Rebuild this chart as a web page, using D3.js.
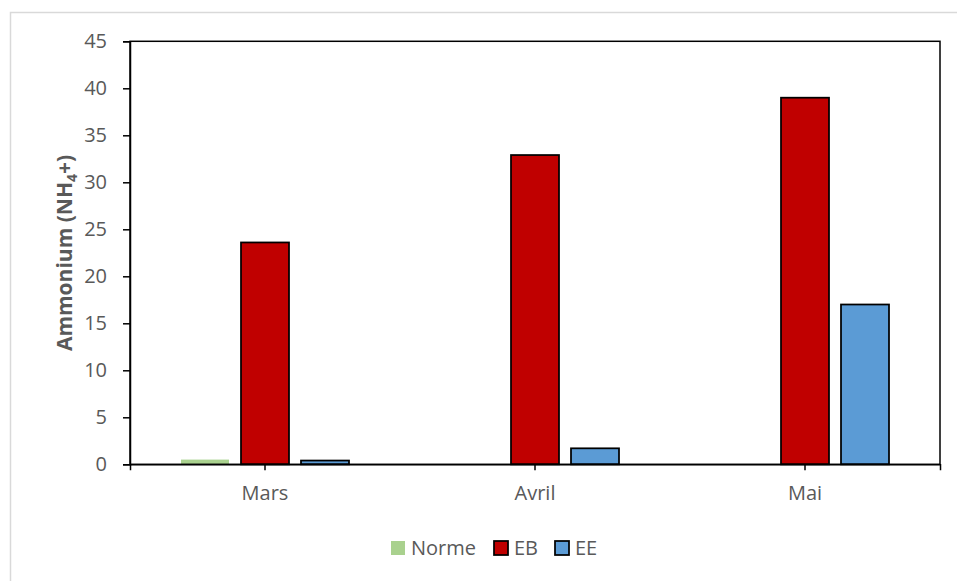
<!DOCTYPE html>
<html>
<head>
<meta charset="utf-8">
<script src="https://cdn.jsdelivr.net/npm/d3@7"></script>
<style>
  html, body { margin: 0; padding: 0; background: #fff; }
  svg { display: block; }
  text { font-family: "Open Sans", "Noto Sans", sans-serif; fill: #595959; }
</style>
</head>
<body>
<svg id="chart" width="957" height="581"></svg>
<script>
// Monthly ammonium measurements
const months = ["Mars", "Avril", "Mai"];
const seriesNames = ["Norme", "EB", "EE"];
const norme = [0.5, 0, 0];
const eb = [23.6, 32.9, 39.0];
const ee = [0.4, 1.7, 17.0];
const yTicks = [0, 5, 10, 15, 20, 25, 30, 35, 40, 45];
const colors = { Norme: "#a9d18e", EB: "#c00000", EE: "#5b9bd5" };
const outlined = { Norme: false, EB: true, EE: true };

const values = { Norme: norme, EB: eb, EE: ee };
const rows = months.map((m, i) => ({
  month: m,
  bars: seriesNames.map(s => ({ series: s, value: values[s][i] }))
}));

const svg = d3.select("#chart");
const W = 957, H = 581;
const plot = { left: 130, right: 940, top: 41.3, bottom: 464.3 };
const FONT = 20;

// chart area frame
svg.append("rect")
  .attr("x", 10.5).attr("y", 12.5)
  .attr("width", W + 20).attr("height", H + 20)
  .attr("fill", "#fff").attr("stroke", "#d9d9d9").attr("stroke-width", 1.5);

const x0 = d3.scaleBand().domain(months).range([plot.left, plot.right]).padding(0);
const x1 = d3.scaleBand().domain(seriesNames).range([0, x0.bandwidth()])
  .paddingInner(0.2).paddingOuter(0.85);
const y = d3.scaleLinear().domain([0, 45]).range([plot.bottom, plot.top]);

// bars
const groups = svg.append("g").selectAll("g").data(rows).join("g")
  .attr("transform", d => `translate(${x0(d.month)},0)`);
groups.selectAll("rect").data(d => d.bars.filter(b => b.value > 0)).join("rect")
  .attr("x", d => x1(d.series))
  .attr("y", d => y(d.value))
  .attr("width", x1.bandwidth())
  .attr("height", d => y(0) - y(d.value))
  .attr("fill", d => colors[d.series])
  .attr("stroke", d => outlined[d.series] ? "#000" : "none")
  .attr("stroke-width", 1.75);

// plot frame
svg.append("rect")
  .attr("x", plot.left).attr("y", plot.top)
  .attr("width", plot.right - plot.left).attr("height", plot.bottom - plot.top)
  .attr("fill", "none").attr("stroke", "#000").attr("stroke-width", 1.5);

// y axis
const yAxis = svg.append("g")
  .attr("transform", `translate(${plot.left},0)`)
  .call(d3.axisLeft(y).tickValues(yTicks).tickSize(7).tickPadding(16).tickFormat(d3.format("d")));
yAxis.select(".domain").attr("stroke", "#000").attr("stroke-width", 1.5);
yAxis.selectAll(".tick line").attr("stroke", "#000").attr("stroke-width", 1.5);
yAxis.selectAll(".tick text").attr("font-size", FONT).attr("fill", "#595959")
  .attr("font-family", "'Open Sans', sans-serif");

// x axis
const xAxis = svg.append("g")
  .attr("transform", `translate(0,${plot.bottom})`)
  .call(d3.axisBottom(x0).tickSize(6).tickPadding(16));
xAxis.select(".domain").attr("stroke", "#000").attr("stroke-width", 1.5);
xAxis.selectAll(".tick line").attr("stroke", "#000").attr("stroke-width", 1.5);
xAxis.selectAll(".tick text").attr("font-size", FONT).attr("fill", "#595959")
  .attr("font-family", "'Open Sans', sans-serif");

// y axis title
const title = svg.append("text")
  .attr("transform", `translate(72,253) rotate(-90)`)
  .attr("text-anchor", "middle")
  .attr("font-size", 21).attr("font-weight", "bold");
title.append("tspan").text("Ammonium (NH");
title.append("tspan").text("4").attr("font-size", 14).attr("dy", 5);
title.append("tspan").text("+)").attr("dy", -5);

// legend
const legendItems = [
  { name: "Norme", x: 391 },
  { name: "EB", x: 494 },
  { name: "EE", x: 555 }
];
const legend = svg.append("g").selectAll("g").data(legendItems).join("g")
  .attr("transform", d => `translate(${d.x},548)`);
legend.append("rect")
  .attr("x", 0).attr("y", -7).attr("width", 14).attr("height", 14)
  .attr("fill", d => colors[d.name])
  .attr("stroke", d => outlined[d.name] ? "#000" : "none")
  .attr("stroke-width", 1.75);
legend.append("text")
  .attr("x", 20).attr("y", 0).attr("dy", "0.35em")
  .attr("font-size", FONT)
  .text(d => d.name);
</script>
</body>
</html>
